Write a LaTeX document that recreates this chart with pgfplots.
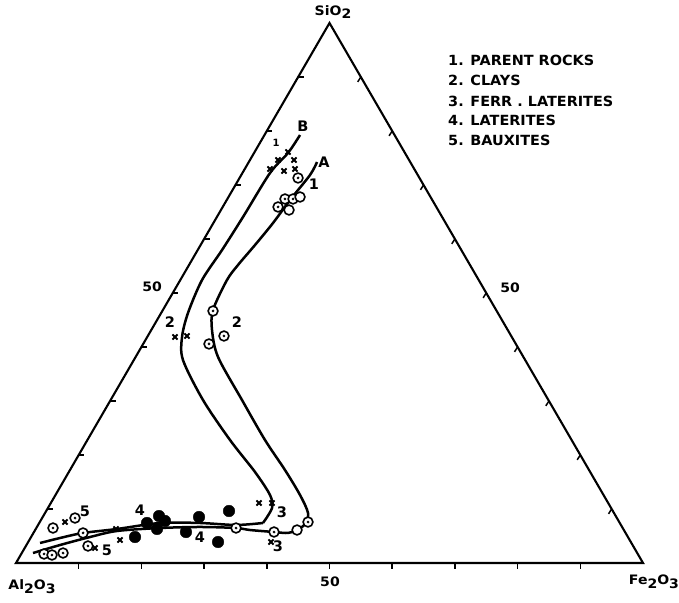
\documentclass[border=0pt]{standalone}
\usepackage{fontspec}
\setmainfont{DejaVu Sans}
\usepackage{pgfplots}
\usepackage{pgfplotstable}
\pgfplotsset{compat=1.18}

% Cartesian ternary frame: u = Fe2O3 + SiO2/2 (%), s = SiO2 (%)
\pgfplotstableread{
u s
44.98 71.30
42.90 67.41
44.18 67.41
41.79 65.93
}\parentodot
\pgfplotstableread{
u s
45.30 67.78
43.54 65.37
}\parentopen
\pgfplotstableread{
u s
41.79 74.63
44.34 74.63
40.51 72.96
42.74 72.59
44.50 72.96
43.38 76.11
}\parentx
\pgfplotstableread{
u s
31.42 46.67
33.17 42.04
30.78 40.56
}\clayodot
\pgfplotstableread{
u s
25.36 41.85
27.27 42.04
}\clayx
\pgfplotstableread{
u s
41.15 5.74
46.57 7.59
35.09 6.48
}\ferrodot
\pgfplotstableread{
u s
44.82 6.11
}\ferropen
\pgfplotstableread{
u s
38.76 11.11
40.83 11.11
40.67 3.89
}\ferrx
\pgfplotstableread{
u s
18.98 4.81
20.89 7.41
22.81 8.70
23.76 7.78
22.49 6.30
27.11 5.74
29.19 8.52
33.97 9.63
32.22 3.89
}\laterite
\pgfplotstableread{
u s
5.90 6.48
9.41 8.33
10.69 5.56
11.48 3.15
4.47 1.67
5.74 1.48
7.50 1.85
}\bauxodot
\pgfplotstableread{
u s
7.82 7.59
12.60 2.78
16.59 4.26
15.95 6.30
}\bauxx

\pgfplotsset{
  ring/.style={only marks, mark=*, mark size=4.9pt, mark options={fill=white, draw=black, line width=1.6pt}},
  ringdot/.style={only marks, mark=*, mark size=1.2pt, black},
  cross/.style={only marks, mark=x, mark size=3.6pt, mark options={line width=1.9pt}, black},
  curve/.style={black, line width=2.5pt, smooth, tension=0.5},
}

\begin{document}
\begin{tikzpicture}
\begin{axis}[
  width=679pt, height=602pt, scale only axis, hide axis, clip=false,
  xmin=-2.552, xmax=105.74, ymin=-7.222, ymax=104.26,
]
\path (rel axis cs:0,0) rectangle (rel axis cs:1,1);
% triangle
\addplot[black, line width=2.1pt, line join=miter] coordinates {(0,0) (100,0) (50,100)} -- cycle;
% ticks
\foreach \k in {10,20,...,90} {
  \edef\temp{\noexpand\draw[line width=1.5pt] (axis cs:\k*0.5,\k) -- ++(axis direction cs:0.9,0);}\temp
  \edef\temp{\noexpand\draw[line width=1.5pt] (axis cs:\k,0) -- ++(axis direction cs:0,-1.1);}\temp
  \edef\temp{\noexpand\draw[line width=1.5pt] (axis cs:100-\k*0.5,\k) -- ++(axis direction cs:-0.5,-0.9);}\temp
}
% curve B
\addplot[curve] coordinates {
(45.30,79.26) (43.38,75.93) (40.51,72.22) (36.20,64.07) (32.86,57.96)
(29.67,52.41) (27.43,46.30) (26.48,41.85) (26.63,37.59) (29.82,30.19)
(34.13,22.78) (38.12,16.85) (40.51,12.59) (40.83,10.19) (39.39,7.41)};
\addplot[curve] coordinates {
(39.39,7.41) (35.09,7.04) (29.35,7.41) (22.97,7.41) (16.11,6.30)
(10.69,5.56) (7.02,4.63) (3.83,3.70)};
% curve A
\addplot[curve] coordinates {
(48.01,74.26) (46.89,71.85) (43.70,67.22) (40.99,62.96) (38.12,58.89)
(35.41,55.19) (33.65,52.41) (31.42,46.85) (31.26,43.15) (32.22,38.15)
(36.04,30.19) (39.71,22.78) (42.90,17.22) (45.30,12.59) (46.57,9.26)
(46.09,7.22) (44.82,6.11) (43.38,5.56) (41.15,5.74) (37.32,6.11)
(35.09,6.48) (29.35,6.67) (22.97,6.48) (16.11,5.93) (11.80,4.81)
(7.02,3.33) (2.71,1.85)};
% markers
\addplot[only marks, mark=*, mark size=5.8pt, black] table {\laterite};
\addplot[ring] table {\parentodot};
\addplot[ringdot] table {\parentodot};
\addplot[ring] table {\clayodot};
\addplot[ringdot] table {\clayodot};
\addplot[ring] table {\ferrodot};
\addplot[ringdot] table {\ferrodot};
\addplot[ring] table {\bauxodot};
\addplot[ringdot] table {\bauxodot};
\addplot[ring] table {\parentopen};
\addplot[ring] table {\ferropen};
\addplot[cross] table {\parentx};
\addplot[cross] table {\clayx};
\addplot[cross] table {\ferrx};
\addplot[cross] table {\bauxx};
% point labels
\begin{scope}[every node/.style={font=\bfseries\fontsize{14.5}{16}\selectfont, inner sep=0pt}]
\node at (axis cs:45.77,80.93) {B};
\node at (axis cs:49.12,74.26) {A};
\node[font=\bfseries\fontsize{10}{11}\selectfont] at (axis cs:41.47,77.78) {1};
\node at (axis cs:47.53,70.19) {1};
\node at (axis cs:24.56,44.63) {2};
\node at (axis cs:35.25,44.63) {2};
\node at (axis cs:42.42,9.44) {3};
\node at (axis cs:41.79,3.15) {3};
\node at (axis cs:19.78,9.81) {4};
\node at (axis cs:29.35,4.81) {4};
\node at (axis cs:11.00,9.63) {5};
\node at (axis cs:14.51,2.41) {5};
\end{scope}
% axis labels
\begin{scope}[every node/.style={font=\bfseries\fontsize{13}{14}\selectfont, inner sep=0pt, xscale=1.08}]
\node at (axis cs:50.56,102.04) {SiO\raisebox{-0.45ex}{2}};
\node at (axis cs:2.55,-4.44) {Al\raisebox{-0.6ex}{2}O\raisebox{-0.6ex}{3}};
\node at (axis cs:101.75,-3.52) {Fe\raisebox{-0.6ex}{2}O\raisebox{-0.6ex}{3}};
\node at (axis cs:21.7,51.11) {50};
\node at (axis cs:78.79,50.93) {50};
\node at (axis cs:50.08,-3.52) {50};
\end{scope}
% legend
\begin{scope}[every node/.style={font=\bfseries\fontsize{14}{15}\selectfont, inner sep=0pt, anchor=west, xscale=1.03}]
\node at (axis cs:68.90,93.15) {1. PARENT ROCKS};
\node at (axis cs:68.90,89.31) {2. CLAYS};
\node at (axis cs:68.90,85.43) {3. FERR . LATERITES};
\node at (axis cs:68.90,81.91) {4. LATERITES};
\node at (axis cs:68.90,78.33) {5. BAUXITES};
\end{scope}
\end{axis}
\end{tikzpicture}
\end{document}
